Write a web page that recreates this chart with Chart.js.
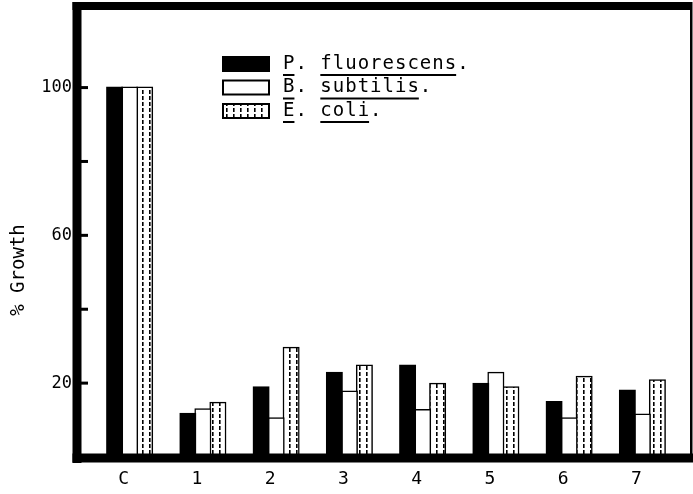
<!DOCTYPE html>
<html lang="en">
  <head>
    <meta charset="UTF-8" />
    <title>% Growth</title>
    <script src="https://cdn.jsdelivr.net/npm/chart.js"></script>
    <style>
      html, body { margin: 0; padding: 0; background: #fff; }
      canvas { display: block; }
    </style>
  </head>
  <body>
    <canvas id="growthChart" width="693" height="494"></canvas>
    <script>
      // values
      const categories = ["C", "1", "2", "3", "4", "5", "6", "7"];
      const pFluorescens = [100, 11.7, 18.9, 22.8, 24.8, 19.8, 14.9, 18.0];
      const bSubtilis = [100, 12.9, 10.5, 17.7, 12.7, 22.8, 10.5, 11.5];
      const eColi = [100, 14.7, 29.6, 24.8, 19.8, 18.9, 21.7, 20.8];
      const seriesNames = ["P. fluorescens.", "B. subtilis.", "E. coli."];
      const labelledTicks = [100, 60, 20];
      const yTitle = "% Growth";

      const monoFont = "'DejaVu Sans Mono', monospace";

      // dashed fill used for E. coli
      function makePattern() {
        const c = document.createElement("canvas");
        c.width = 7;
        c.height = 6;
        const g = c.getContext("2d");
        g.fillStyle = "#fff";
        g.fillRect(0, 0, 7, 6);
        g.fillStyle = "#000";
        g.fillRect(2, 0, 1.6, 4);
        return g.createPattern(c, "repeat");
      }
      const dashPattern = makePattern();

      // thick frame, inward ticks, y title, underlined legend
      const framePlugin = {
        id: "frame",
        afterDatasetsDraw(chart) {
          const ctx = chart.ctx;
          const a = chart.chartArea;
          const y = chart.scales.y;
          const left = a.left - 16;
          const right = a.right + 12;
          ctx.save();
          ctx.fillStyle = "#000";
          ctx.fillRect(left - 4.5, a.top - 8, 9, a.bottom - a.top + 14);   // left
          ctx.fillRect(left - 4.5, a.top - 8, right - left + 4.5, 8);      // top
          ctx.fillRect(right - 1, a.top - 8, 2.5, a.bottom - a.top + 8);   // right
          ctx.fillRect(left - 4.5, a.bottom - 3.5, chart.width, 9);        // bottom
          [20, 40, 60, 80, 100].forEach(v => {
            const py = y.getPixelForValue(v);
            ctx.fillRect(left + 4, py - 1.5, 7, 3);
          });

          // y axis title
          ctx.save();
          ctx.translate(19, 270);
          ctx.rotate(-Math.PI / 2);
          ctx.font = "19px " + monoFont;
          ctx.textAlign = "center";
          ctx.textBaseline = "middle";
          ctx.fillText(yTitle, 0, 0);
          ctx.restore();

          // legend
          ctx.font = "19px " + monoFont;
          ctx.letterSpacing = "1px";
          ctx.textBaseline = "middle";
          chart.data.datasets.forEach((ds, i) => {
            const by = 64 + i * 23.5;
            ctx.fillStyle = ds.backgroundColor;
            ctx.fillRect(223, by - 7, 46, 14);
            ctx.lineWidth = 2;
            ctx.strokeStyle = "#000";
            ctx.strokeRect(223, by - 7, 46, 14);
            ctx.fillStyle = "#000";
            let tx = 283;
            ds.label.split(" ").forEach(word => {
              ctx.fillText(word, tx, by);
              const core = word.replace(/\.$/, "");
              const w = ctx.measureText(core).width;
              ctx.fillRect(tx, by + 10, w - 1, 2);
              tx += ctx.measureText(word + " ").width;
            });
          });
          ctx.restore();
        }
      };

      new Chart(document.getElementById("growthChart"), {
        type: "bar",
        data: {
          labels: categories,
          datasets: [
            { label: seriesNames[0], data: pFluorescens, backgroundColor: "#000", borderColor: "#000", borderWidth: 1.5 },
            { label: seriesNames[1], data: bSubtilis, backgroundColor: "#fff", borderColor: "#000", borderWidth: 1.5 },
            { label: seriesNames[2], data: eColi, backgroundColor: dashPattern, borderColor: "#000", borderWidth: 1.5 }
          ]
        },
        options: {
          responsive: false,
          animation: false,
          categoryPercentage: 0.615,
          barPercentage: 1.0,
          inflateAmount: 1,
          layout: { padding: { top: 10, right: 14, left: 0, bottom: 0 } },
          plugins: {
            legend: { display: false },
            tooltip: { enabled: false }
          },
          scales: {
            x: {
              grid: { display: false, drawTicks: false },
              border: { display: false },
              ticks: {
                color: "#000",
                font: { family: monoFont, size: 18 },
                padding: 12,
                labelOffset: -6
              },
              afterFit(scale) {
                scale.height = 37;
                scale.paddingLeft = 0;
                scale.paddingRight = 0;
              }
            },
            y: {
              min: 0,
              max: 121,
              grid: { display: false, drawTicks: false },
              border: { display: false },
              ticks: {
                stepSize: 20,
                color: "#000",
                font: { family: monoFont, size: 17 },
                padding: 21,
                callback: v => (labelledTicks.includes(v) ? String(v) : null)
              },
              afterFit(scale) {
                scale.width = 93;
                scale.paddingTop = 0;
                scale.paddingBottom = 0;
              }
            }
          }
        },
        plugins: [framePlugin]
      });
    </script>
  </body>
</html>
